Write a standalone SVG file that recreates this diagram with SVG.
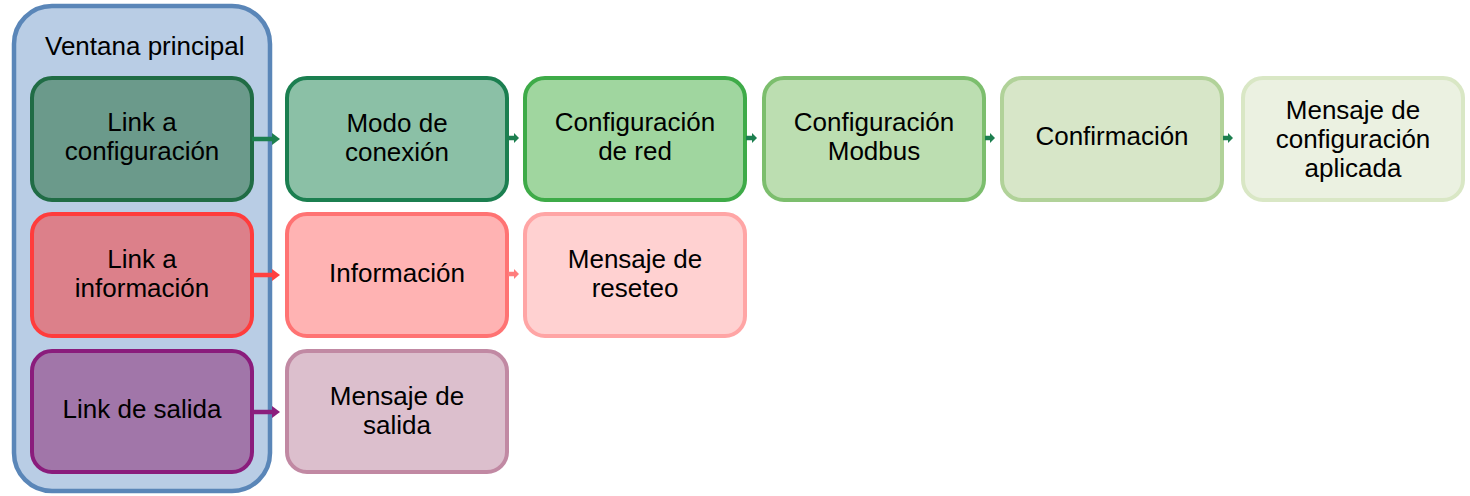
<svg xmlns="http://www.w3.org/2000/svg" width="1470" height="496" viewBox="0 0 1470 496">
<style>
text{font-family:"Liberation Sans",Arial,sans-serif;font-size:26px;fill:#000;text-anchor:middle}
.box{stroke-width:4}
.c{fill:none;stroke-width:4.5}
</style>
<defs>
<marker id="hg" markerUnits="userSpaceOnUse" markerWidth="8" markerHeight="12" viewBox="0 0 8 12" refX="0" refY="6" orient="auto"><path d="M0,0 L8,6 L0,12z" fill="#1c7f4f"/></marker>
<marker id="hgs" markerUnits="userSpaceOnUse" markerWidth="5" markerHeight="10" viewBox="0 0 5 10" refX="0" refY="5" orient="auto"><path d="M0,0 L5,5 L0,10z" fill="#1c7f4f"/></marker>
<marker id="hr" markerUnits="userSpaceOnUse" markerWidth="8" markerHeight="12" viewBox="0 0 8 12" refX="0" refY="6" orient="auto"><path d="M0,0 L8,6 L0,12z" fill="#ff4040"/></marker>
<marker id="hrs" markerUnits="userSpaceOnUse" markerWidth="5" markerHeight="10" viewBox="0 0 5 10" refX="0" refY="5" orient="auto"><path d="M0,0 L5,5 L0,10z" fill="#ff7d7d"/></marker>
<marker id="hp" markerUnits="userSpaceOnUse" markerWidth="8" markerHeight="12" viewBox="0 0 8 12" refX="0" refY="6" orient="auto"><path d="M0,0 L8,6 L0,12z" fill="#8b1e7d"/></marker>
</defs>

<g id="ventana-principal">
<rect x="14" y="6" width="256" height="485" rx="38" fill="#b9cde5" stroke="#5a86b8" stroke-width="4.5"/>
<text x="45" y="55" style="text-anchor:start">Ventana principal</text>
</g>

<g id="link-configuracion">
<rect class="box" x="32" y="78" width="220" height="122" rx="20" fill="#6b9a8b" stroke="#206c45"/>
<text x="142" y="131">Link a</text><text x="142" y="160">configuración</text>
</g>
<g id="modo-conexion">
<rect class="box" x="287" y="78" width="220" height="122" rx="20" fill="#8bc0a6" stroke="#1b7f50"/>
<text x="397" y="132">Modo de</text><text x="397" y="161">conexión</text>
</g>
<g id="config-red">
<rect class="box" x="525" y="78" width="220" height="122" rx="20" fill="#a0d69f" stroke="#3eab48"/>
<text x="635" y="131">Configuración</text><text x="635" y="160">de red</text>
</g>
<g id="config-modbus">
<rect class="box" x="764" y="78" width="220" height="122" rx="20" fill="#bcdeb1" stroke="#7cbe6d"/>
<text x="874" y="131">Configuración</text><text x="874" y="160">Modbus</text>
</g>
<g id="confirmacion">
<rect class="box" x="1002" y="78" width="220" height="122" rx="20" fill="#d7e6c8" stroke="#b1d299"/>
<text x="1112" y="145">Confirmación</text>
</g>
<g id="mensaje-config-aplicada">
<rect class="box" x="1243" y="78" width="220" height="122" rx="20" fill="#ebf1e1" stroke="#d9e7c5"/>
<text x="1353" y="119">Mensaje de</text><text x="1353" y="148">configuración</text><text x="1353" y="177">aplicada</text>
</g>

<g id="link-informacion">
<rect class="box" x="32" y="214" width="220" height="122" rx="20" fill="#dc808a" stroke="#ff3c3c"/>
<text x="142" y="268">Link a</text><text x="142" y="297">información</text>
</g>
<g id="informacion">
<rect class="box" x="287" y="214" width="220" height="122" rx="20" fill="#ffb3b3" stroke="#ff7373"/>
<text x="397" y="282">Información</text>
</g>
<g id="mensaje-reseteo">
<rect class="box" x="525" y="214" width="220" height="122" rx="20" fill="#ffd1d1" stroke="#ffa5a5"/>
<text x="635" y="268">Mensaje de</text><text x="635" y="297">reseteo</text>
</g>

<g id="link-salida">
<rect class="box" x="32" y="351" width="220" height="121" rx="20" fill="#a176a9" stroke="#8a1c7c"/>
<text x="142" y="418">Link de salida</text>
</g>
<g id="mensaje-salida">
<rect class="box" x="287" y="351" width="220" height="121" rx="20" fill="#dcbfcd" stroke="#c189a3"/>
<text x="397" y="405">Mensaje de</text><text x="397" y="434">salida</text>
</g>

<g id="connectors">
<line class="c" x1="252" y1="139" x2="272" y2="139" stroke="#1c7f4f" marker-end="url(#hg)"/>
<line class="c" x1="508" y1="138" x2="514" y2="138" stroke="#1c7f4f" stroke-width="4" marker-end="url(#hgs)"/>
<line class="c" x1="746" y1="138" x2="752" y2="138" stroke="#1c7f4f" stroke-width="4" marker-end="url(#hgs)"/>
<line class="c" x1="985" y1="138" x2="990" y2="138" stroke="#1c7f4f" stroke-width="4" marker-end="url(#hgs)"/>
<line class="c" x1="1223" y1="138" x2="1228" y2="138" stroke="#1c7f4f" stroke-width="4" marker-end="url(#hgs)"/>
<line class="c" x1="252" y1="275" x2="272" y2="275" stroke="#ff4040" marker-end="url(#hr)"/>
<line class="c" x1="508" y1="274" x2="514" y2="274" stroke="#ff7d7d" stroke-width="4" marker-end="url(#hrs)"/>
<line class="c" x1="252" y1="412" x2="272" y2="412" stroke="#8b1e7d" marker-end="url(#hp)"/>
</g>
</svg>
